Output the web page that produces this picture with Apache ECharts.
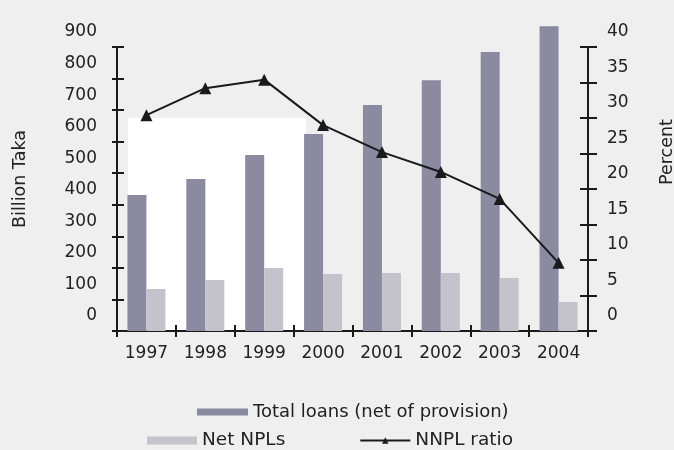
<!DOCTYPE html>
<html>
<head>
<meta charset="utf-8">
<script src="https://cdn.jsdelivr.net/npm/echarts@6/dist/echarts.min.js"></script>
<style>
  html, body { margin: 0; padding: 0; background: #efefef; }
  #chart { width: 674px; height: 450px; }
</style>
</head>
<body>
<div id="chart"></div>
<script>
// Bangladesh banking sector: loans, net non-performing loans and NNPL ratio
const years = ['1997', '1998', '1999', '2000', '2001', '2002', '2003', '2004'];
const totalLoans = [431, 482, 558, 624, 716, 795, 884, 966];   // Billion Taka
const netNPLs = [133, 162, 200, 181, 184, 184, 168, 92];       // Billion Taka
const nnplRatio = [30.4, 34.2, 35.4, 29.0, 25.2, 22.4, 18.6, 9.6]; // Percent
const leftTicks = { min: 0, max: 900, interval: 100 };
const rightTicks = { min: 0, max: 40, interval: 5 };

const FONT = 'DejaVu Sans';
const INK = '#1a1a1a';

const chart = echarts.init(document.getElementById('chart'), null, { renderer: 'canvas' });

// value axis with labels sitting half a step above their ticks
function valueAxis(pos, ticks, opts) {
  return Object.assign({
    type: 'value',
    position: pos,
    min: ticks.min,
    max: ticks.max,
    interval: ticks.interval,
    splitLine: { show: false },
    axisLine: { show: true, lineStyle: { color: INK, width: 2 } },
    axisTick: { show: true, length: 5, lineStyle: { color: INK, width: 2 } },
    axisLabel: {
      show: true,
      showMinLabel: true,
      showMaxLabel: true,
      hideOverlap: false,
      color: '#222',
      fontFamily: FONT,
      fontSize: 17,
      margin: 20,
      verticalAlign: 'bottom',
      lineHeight: 30
    }
  }, opts);
}

chart.setOption({
  backgroundColor: '#efefef',
  animation: false,
  textStyle: { fontFamily: FONT },
  graphic: [{
    type: 'rect',
    z: 0,
    shape: { x: 128, y: 118, width: 178, height: 213 },
    style: { fill: '#ffffff' }
  }],
  grid: {
    left: 117, right: 86, top: 47, bottom: 119,
    containLabel: false,
    outerBoundsMode: 'none'
  },
  legend: [{
    data: [{ name: 'Total loans (net of provision)', icon: 'rect' }],
    left: 197, top: 403, padding: 0,
    itemWidth: 51, itemHeight: 7,
    textStyle: { fontFamily: FONT, fontSize: 18, color: '#222' }
  }, {
    data: [{ name: 'Net NPLs', icon: 'rect' }, 'NNPL ratio'],
    left: 147, top: 431, padding: 0,
    itemWidth: 50, itemHeight: 8, itemGap: 74,
    textStyle: { fontFamily: FONT, fontSize: 18.5, color: '#222' }
  }],
  xAxis: [{
    type: 'category',
    data: years,
    position: 'bottom',
    axisLine: { show: true, lineStyle: { color: INK, width: 2 } },
    axisTick: { show: true, length: 6, interval: 0, lineStyle: { color: INK, width: 2 } },
    axisLabel: { color: '#222', fontFamily: FONT, fontSize: 17, margin: 14, interval: 0 }
  }, {
    type: 'category',
    data: years,
    position: 'bottom',
    offset: 0,
    axisLine: { show: false },
    axisTick: { show: true, inside: true, length: 6, interval: 0, lineStyle: { color: INK, width: 2 } },
    axisLabel: { show: false }
  }],
  yAxis: [
    valueAxis('left', leftTicks, {
      name: 'Billion Taka',
      nameLocation: 'middle',
      nameGap: 88,
      nameTextStyle: { fontFamily: FONT, fontSize: 17.5, color: '#222', padding: [0, 0, 0, 20] }
    }),
    valueAxis('left', leftTicks, {
      offset: 0,
      axisLine: { show: false },
      axisTick: { show: true, inside: true, length: 7, lineStyle: { color: INK, width: 2 } },
      axisLabel: { show: false }
    }),
    valueAxis('right', rightTicks, {
      name: 'Percent',
      nameLocation: 'middle',
      nameGap: 70,
      axisTick: { show: true, length: 9, lineStyle: { color: INK, width: 2 } },
      axisLabel: {
        show: true, showMinLabel: true, showMaxLabel: true, hideOverlap: false,
        color: '#222', fontFamily: FONT, fontSize: 17, margin: 19,
        verticalAlign: 'bottom', lineHeight: 30
      },
      nameTextStyle: { fontFamily: FONT, fontSize: 17.5, color: '#222', padding: [0, 0, 0, 74] }
    }),
    valueAxis('right', rightTicks, {
      offset: 0,
      axisLine: { show: false },
      axisTick: { show: true, inside: true, length: 8, lineStyle: { color: INK, width: 2 } },
      axisLabel: { show: false }
    })
  ],
  series: [{
    name: 'Total loans (net of provision)',
    type: 'bar',
    data: totalLoans,
    xAxisIndex: 0,
    yAxisIndex: 0,
    barWidth: 19,
    barGap: '0%',
    clip: false,
    itemStyle: { color: '#8b8aa1' }
  }, {
    name: 'Net NPLs',
    type: 'bar',
    data: netNPLs,
    xAxisIndex: 0,
    yAxisIndex: 0,
    barWidth: 19,
    barGap: '0%',
    clip: false,
    itemStyle: { color: '#c4c3cb' }
  }, {
    name: 'NNPL ratio',
    type: 'line',
    data: nnplRatio,
    xAxisIndex: 0,
    yAxisIndex: 2,
    symbol: 'triangle',
    symbolSize: 12,
    z: 5,
    lineStyle: { color: INK, width: 2 },
    itemStyle: { color: INK }
  }]
});
</script>
</body>
</html>
